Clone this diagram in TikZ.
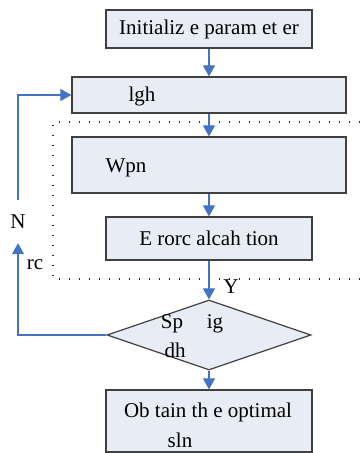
\documentclass[tikz,border=0pt]{standalone}
\usepackage{fontspec}
\setmainfont{Liberation Serif}
\usetikzlibrary{arrows.meta,positioning,calc,shapes}

\definecolor{boxfill}{RGB}{232,236,245}
\definecolor{boxline}{RGB}{64,64,64}
\definecolor{flowblue}{RGB}{68,114,196}

\begin{document}
\begin{tikzpicture}[x=1pt,y=-1pt,
    box/.style={draw=boxline,fill=boxfill,line width=1.2pt,inner sep=0pt},
    flow/.style={draw=flowblue,line width=1.1pt,-{Triangle[length=11pt,width=12pt]}},
    dots/.style={black!85,line width=1.2pt,dash pattern=on 1.2pt off 8.8pt},
    txt/.style={font=\fontsize{21}{24}\selectfont,inner sep=0pt}]
    \useasboundingbox (0,0) rectangle (360,453);

    % dotted frame
    \draw[dots] (360,122) -- (53,122) -- (53,279) -- (360,279);

    % boxes
    \node[box,txt,minimum width=206pt,minimum height=38pt] (init) at (209,29) {Initializ e param\ et er};
    \node[box,minimum width=274pt,minimum height=36pt] (update) at (209,95) {};
    \node[txt,anchor=base] (updtxt) at (142,101) {lgh};
    \node[box,minimum width=274pt,minimum height=56pt] (eval) at (209,165) {};
    \node[txt,anchor=base] (evaltxt) at (126,172) {Wpn};
    \node[box,txt,minimum width=206pt,minimum height=43pt] (error) at (209,238.5) {E\ rorc alcah tion};

    % decision
    \node[draw=boxline,fill=boxfill,line width=1.2pt,diamond,aspect=2.9,inner sep=0pt,
        minimum width=204pt,minimum height=70pt] (check) at (209,335) {};
    \node[txt,anchor=base] (chk1) at (172,328) {Sp};
    \node[txt,anchor=base] (chk2) at (215,328) {ig};
    \node[txt,anchor=base] (chk3) at (175,357) {dh};

    % result
    \node[box,minimum width=206pt,minimum height=62pt] (result) at (209,421) {};
    \node[txt,anchor=base] (res1) at (208,417) {Ob\ tain th\ e optimal};
    \node[txt,anchor=base] (res2) at (180,447) {sln};

    % labels
    \node[txt,minimum height=43pt] (nlab) at (18,221.5) {N};
    \node[txt,anchor=base] (ylab) at (231,293) {Y};
    \node[txt,anchor=base] (nblob) at (35,269) {rc};

    % connectors
    \draw[flow] (init) -- (update);
    \draw[flow] (update) -- (eval);
    \draw[flow] (eval) -- (error);
    \draw[flow] (error) -- (check);
    \draw[flow] (check) -- (result);
    \draw[flow] (check.west) -| (nlab.south);
    \draw[flow] (nlab.north) |- (update.west);
\end{tikzpicture}
\end{document}
